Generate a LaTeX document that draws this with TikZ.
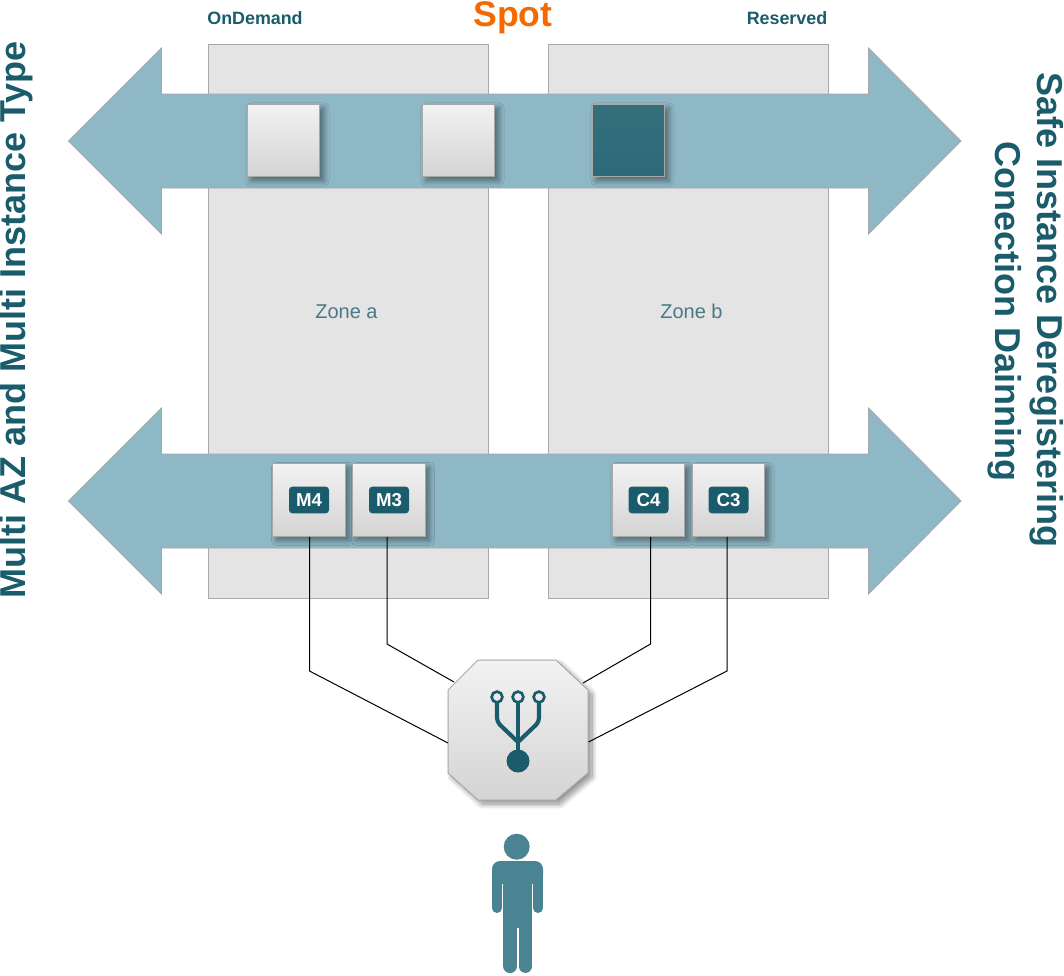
\documentclass[tikz,border=0pt]{standalone}
\usepackage{fontspec}
\setmainfont{Liberation Sans}
\usetikzlibrary{shadows.blur}

\definecolor{tealdark}{HTML}{1A5C6B}
\definecolor{tealbody}{HTML}{4A8493}
\definecolor{zonetext}{HTML}{4A7886}
\definecolor{bandblue}{HTML}{8FB8C6}
\definecolor{zonegray}{HTML}{E4E4E4}
\definecolor{edgegray}{HTML}{A8A8A8}
\definecolor{spotorange}{HTML}{F46A00}

\tikzset{
    zonebox/.style={draw=edgegray,fill=zonegray,line width=0.75pt,minimum width=210.25pt,minimum height=415.5pt},
    zonelabel/.style={anchor=base,text=zonetext,font=\fontsize{15}{17}\selectfont},
    band/.style={draw=edgegray,fill=bandblue,line width=0.6pt},
    softshadow/.style={blur shadow={shadow xshift=3pt,shadow yshift=-3pt,shadow blur radius=4pt,shadow blur steps=12,shadow opacity=45}},
    metal/.style={draw=edgegray,line width=0.75pt,top color=white!95!black,bottom color=white!83!black,softshadow},
    instance/.style={metal,minimum size=54.5pt,inner sep=0pt},
    darkinstance/.style={instance,top color=tealdark!88!white,bottom color=tealdark!92!white},
    tag/.style={fill=tealdark,text=white,rounded corners=2.5pt,minimum width=30pt,minimum height=20pt,inner sep=0pt,font=\fontsize{14}{15}\bfseries\selectfont},
    sidelabel/.style={text=tealdark,font=\fontsize{27}{30}\bfseries\selectfont},
    toplabel/.style={text=tealdark,font=\fontsize{13.4}{15}\bfseries\selectfont},
    wire/.style={line width=0.75pt,black},
    icon/.style={tealdark,line width=3.1pt,rounded corners=3pt},
}

\begin{document}
\begin{tikzpicture}[x=0.75pt,y=-0.75pt]
    \useasboundingbox (0,0) rectangle (1064,975);

    % zones
    \node[zonebox] (zonea) at (348.5,321) {};
    \node[zonebox] (zoneb) at (688.5,321) {};
    \node[zonelabel] (zonealabel) at (346.5,318) {Zone a};
    \node[zonelabel] (zoneblabel) at (691.5,318) {Zone b};

    % arrows
    \foreach \y in {141,501} {
        \draw[band] (68.5,\y) -- (161.5,\y-93) -- (161.5,\y-47) -- (868.5,\y-47) -- (868.5,\y-93)
            -- (961,\y) -- (868.5,\y+93) -- (868.5,\y+47) -- (161.5,\y+47) -- (161.5,\y+93) -- cycle;
    }

    % top row
    \node[instance] (inst1) at (283.5,140.5) {};
    \node[instance] (inst2) at (458.5,140.5) {};
    \node[darkinstance] (inst3) at (628.5,140.5) {};

    % bottom row
    \node[instance] (m4) at (309,500) {};
    \node[instance] (m3) at (389,500) {};
    \node[instance] (c4) at (648.5,500) {};
    \node[instance] (c3) at (728.5,500) {};
    \node[tag] (m4tag) at (m4) {M4};
    \node[tag] (m3tag) at (m3) {M3};
    \node[tag] (c4tag) at (c4) {C4};
    \node[tag] (c3tag) at (c3) {C3};

    % balancer
    \draw[metal] (478,660) -- (556,660) -- (588,690) -- (588,773) -- (556,800) -- (478,800) -- (448,773) -- (448,690) -- cycle;

    \coordinate (m4bend) at (309.5,671);
    \coordinate (m3bend) at (387,644);
    \coordinate (c4bend) at (650.5,644);
    \coordinate (c3bend) at (727,671);
    \coordinate (m4end) at (448,743);
    \coordinate (m3end) at (454,682);
    \coordinate (c4end) at (583,683);
    \coordinate (c3end) at (588.5,742);
    \draw[wire] (m4bend |- m4.south) -- (m4bend) -- (m4end);
    \draw[wire] (m3bend |- m3.south) -- (m3bend) -- (m3end);
    \draw[wire] (c4bend |- c4.south) -- (c4bend) -- (c4end);
    \draw[wire] (c3bend |- c3.south) -- (c3bend) -- (c3end);

    % icon
    \draw[icon] (497,703) -- (497,722) -- (518,742);
    \draw[icon] (539,703) -- (539,722) -- (518,742);
    \draw[icon] (518,703) -- (518,755);
    \draw[tealdark,line width=2pt] (497,697) circle (5.4) (518,697) circle (5.4) (539,697) circle (5.4);
    \fill[tealdark] (518,761) circle (11.5);

    % person
    \fill[tealbody] (516.7,846.7) circle (13);
    \fill[tealbody,rounded corners=6pt] (492,884) -- (492,861) -- (543,861) -- (543,884) -- cycle;
    \fill[tealbody] (503,870) rectangle (532,928);
    \draw[tealbody,line width=7.5pt,line cap=round] (497,875) -- (497,908);
    \draw[tealbody,line width=7.5pt,line cap=round] (538,875) -- (538,908);
    \draw[tealbody,line width=10.6pt,line cap=round] (510.2,920) -- (510.2,966);
    \draw[tealbody,line width=9.6pt,line cap=round] (525.3,920) -- (525.3,966.5);

    % labels
    \node[toplabel] (ondemand) at (255,18) {OnDemand};
    \node[toplabel] (reserved) at (787,18) {Reserved};
    \node[text=spotorange,font=\fontsize{26.7}{30}\bfseries\selectfont] (spot) at (513,18) {Spot};
    \node[sidelabel,rotate=90] (multi) at (16,320) {Multi AZ and Multi Instance Type};
    \node[sidelabel,rotate=-90] (safe) at (1046.5,310) {Safe Instance Deregistering};
    \node[sidelabel,rotate=-90] (drain) at (1005,311.5) {Conection Dainning};
\end{tikzpicture}
\end{document}
